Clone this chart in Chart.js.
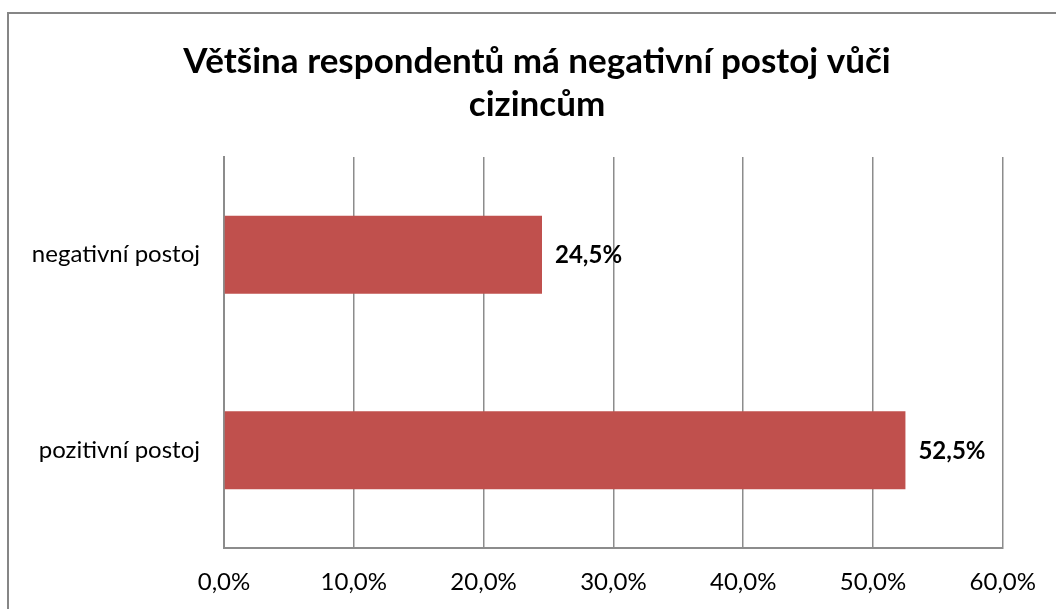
<!DOCTYPE html>
<html>
<head>
  <meta charset="utf-8">
  <title>Postoj vůči cizincům</title>
  <script src="https://cdn.jsdelivr.net/npm/chart.js"></script>
  <style>
    body { margin: 0; background: #fff; }
  </style>
</head>
<body>
  <canvas id="postojChart" width="1056" height="609"></canvas>

  <script>
    // data
    var categories = ["negativní postoj", "pozitivní postoj"];
    var values = [24.5, 52.5];
    var titleLines = ["Většina respondentů má negativní postoj vůči", "cizincům"];
    var axisMin = 0;
    var axisMax = 60;
    var axisStep = 10;

    function pct(v) {
      return v.toFixed(1).replace(".", ",") + "%";
    }

    // ramecek kolem celeho grafu + nadpis
    var frame = {
      id: "frame",
      beforeDraw: function(chart) {
        var ctx = chart.ctx;
        ctx.save();
        ctx.fillStyle = "#fff";
        ctx.fillRect(0, 0, chart.width, chart.height);
        ctx.strokeStyle = "#868686";
        ctx.lineWidth = 2;
        ctx.strokeRect(8, 13, chart.width + 20, chart.height + 20);

        ctx.fillStyle = "#000";
        ctx.font = "bold 35px Lato";
        ctx.textAlign = "center";
        ctx.textBaseline = "middle";
        ctx.fillText(titleLines[0], 537, 62);
        ctx.fillText(titleLines[1], 537, 105);
        ctx.restore();
      }
    };

    // popisky hodnot za koncem sloupcu
    var valueLabels = {
      id: "valueLabels",
      afterDatasetsDraw: function(chart) {
        var ctx = chart.ctx;
        var meta = chart.getDatasetMeta(0);
        ctx.save();
        ctx.font = "bold 24px Lato";
        ctx.fillStyle = "#000";
        ctx.textAlign = "left";
        ctx.textBaseline = "middle";
        meta.data.forEach(function(bar, i) {
          ctx.fillText(pct(values[i]), bar.x + 13, bar.y + 1);
        });
        ctx.restore();
      }
    };

    var chart = new Chart("postojChart", {
      type: "bar",
      data: {
        labels: categories,
        datasets: [{
          data: values,
          backgroundColor: "#C0504D",
          borderWidth: 0,
          barPercentage: 0.4,
          categoryPercentage: 1
        }]
      },
      plugins: [frame, valueLabels],
      options: {
        indexAxis: "y",
        responsive: false,
        animation: false,
        layout: {
          padding: { left: 0, right: 52, top: 157, bottom: 0 }
        },
        plugins: {
          legend: { display: false },
          tooltip: { enabled: false },
          title: { display: false }
        },
        scales: {
          x: {
            min: axisMin,
            max: axisMax,
            afterFit: function(scale) { scale.height = 61; },
            ticks: {
              stepSize: axisStep,
              color: "#000",
              padding: 20,
              font: { family: "Lato", size: 24 },
              callback: function(v) { return pct(v); }
            },
            grid: {
              color: "#8c8c8c",
              lineWidth: 1.5,
              drawTicks: false
            },
            border: { display: true, color: "#8c8c8c", width: 2 }
          },
          y: {
            afterFit: function(scale) { scale.width = 224; },
            ticks: {
              color: "#000",
              padding: 24,
              font: { family: "Lato", size: 24 }
            },
            grid: {
              color: "rgba(0,0,0,0)",
              drawTicks: false
            },
            border: { display: true, color: "#8c8c8c", width: 2 }
          }
        }
      }
    });
  </script>
</body>
</html>
